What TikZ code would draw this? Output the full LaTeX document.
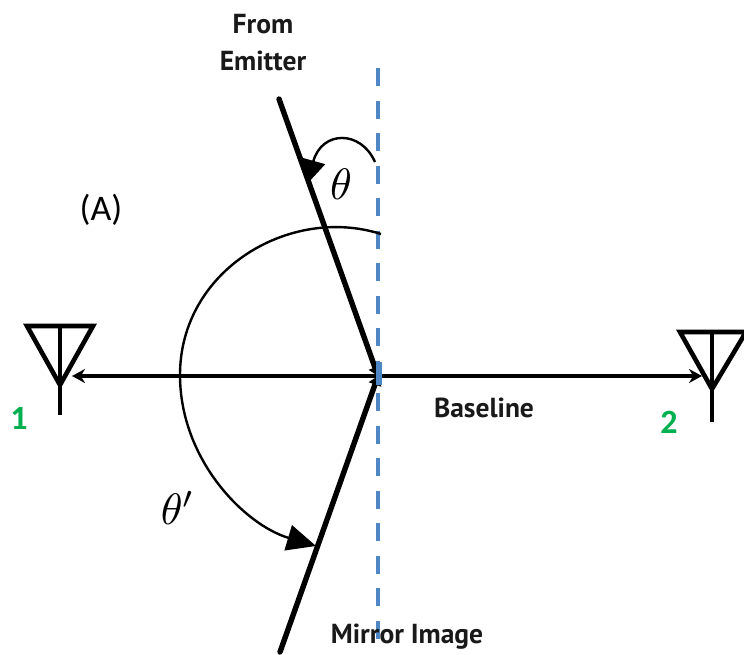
\documentclass[tikz,border=0pt]{standalone}
\usepackage{amsmath,amssymb}
\usepackage{fontspec}
\setmainfont{Carlito}
\newfontfamily\labelfont{PT Sans}
\usetikzlibrary{arrows.meta}
\definecolor{mirrorblue}{HTML}{4F86C6}
\definecolor{portgreen}{HTML}{00B050}
\tikzset{
  ray/.style={line width=5.4pt, line cap=round},
  antenna/.style={line width=4.6pt, line join=miter},
  anglearc/.style={line width=2.4pt},
  textlabel/.style={font=\labelfont\bfseries\fontsize{27.5}{37}\selectfont, align=center, inner sep=0pt, text=black!90},
  portlabel/.style={font=\bfseries\fontsize{34}{38}\selectfont, text=portgreen, inner sep=0pt},
  anglelabel/.style={scale=4.4, inner sep=0pt}
}
\begin{document}
\begin{tikzpicture}[x=1pt, y=-1pt, >=Stealth]
  \useasboundingbox (0,0) rectangle (744,654);

  % mirror line
  \draw[mirrorblue, line width=4.5pt, dash pattern=on 18pt off 14.5pt] (378,68) -- (378,642);

  % points of the rays
  \coordinate (emitter) at (279,99);
  \coordinate (image) at (280,652);
  \coordinate (origin) at (378,376);

  % left antenna
  \coordinate (ant1) at (60,385);
  \draw[antenna] (27,326) -- (93,326) -- (ant1) -- cycle;
  \draw[antenna] (60,326) -- (60,415);
  \node[portlabel] (num1) at (19,418) {1};

  % right antenna
  \coordinate (ant2) at (712,389);
  \draw[antenna] (680,332) -- (746,332) -- (ant2) -- cycle;
  \draw[antenna] (712,332) -- (712,422);
  \node[portlabel] (num2) at (669,422) {2};

  % baseline
  \draw[line width=4pt, <->, >={Stealth[length=13pt,width=14pt]}, shorten <=12pt, shorten >=10pt] (ant1 |- origin) -- (ant2 |- origin);
  \node[textlabel] (baseline) at (484,408) {Baseline};

  % rays
  \draw[ray, ->, >={Triangle[length=9pt,width=13pt]}] (emitter) -- (origin);
  \draw[ray, ->, >={Triangle[length=9pt,width=13pt]}] (image) -- (origin);
  \fill[mirrorblue] (375.5,362) rectangle (382,385);

  % angles
  \draw[anglearc, -{Triangle[length=24pt,width=24pt]}] (375,162) .. controls (361,130) and (322,130) .. (307,184);
  \draw[anglearc, -{Triangle[length=29pt,width=26pt]}] (381,234) .. controls (290,205) and (180,270) .. (180,375) .. controls (180,460) and (245,525) .. (316,546);
  \node[anglelabel] (theta) at (341,184) {$\theta$};
  \node[anglelabel] (thetap) at (178,508) {$\theta'$};

  % labels
  \node[textlabel] (from) at (263,43) {From\\Emitter};
  \node[textlabel] (mirror) at (407,637) {Mirror Image};
  \node[font=\fontsize{36}{40}\selectfont, inner sep=0pt] (caseA) at (101,210) {(A)};
\end{tikzpicture}
\end{document}
